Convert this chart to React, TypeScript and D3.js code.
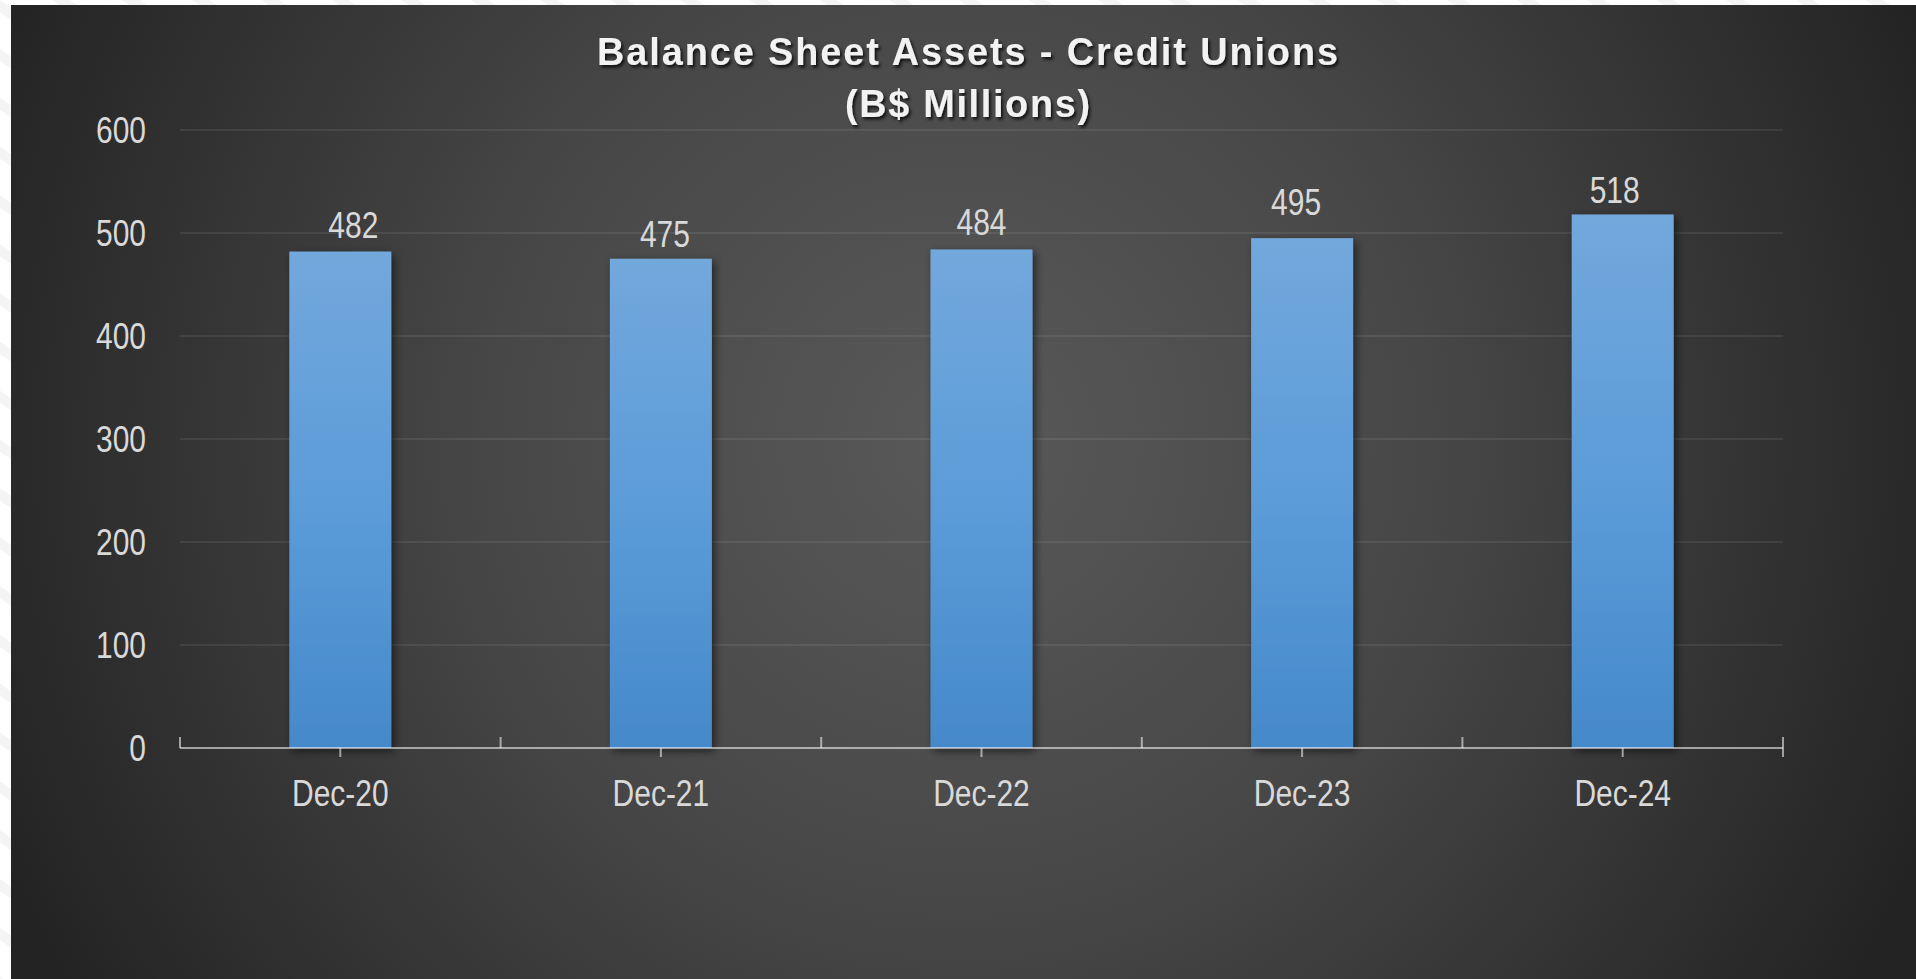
import React from "react";
import * as d3 from "d3";

const categories: string[] = ["Dec-20", "Dec-21", "Dec-22", "Dec-23", "Dec-24"];
const assets: number[] = [482, 475, 484, 495, 518];
const yTicks: number[] = [0, 100, 200, 300, 400, 500, 600];
const titleLines: string[] = ["Balance Sheet Assets - Credit Unions", "(B$ Millions)"];
// small manual nudges of the value labels (dx, extra gap above bar)
const labelDx: number[] = [13, 4, 0, -6, -8];
const labelGap: number[] = [14, 12, 14, 23, 11];

const W = 1916;
const H = 979;
const FONT = "'Liberation Sans Narrow', 'Arial Narrow', 'Liberation Sans', Arial, sans-serif";
const SX = 0.81; // horizontal condensing to mimic a narrow face

function NarrowText(props: {
  x: number;
  y: number;
  anchor: "start" | "middle" | "end";
  size: number;
  fill: string;
  weight?: string;
  length?: number;
  sx?: number;
  children: React.ReactNode;
}) {
  const sx = props.sx ?? SX;
  return (
    <g transform={`translate(${props.x},${props.y}) scale(${sx},1)`}>
      <text
        x={0}
        y={0}
        textAnchor={props.anchor}
        fontFamily={FONT}
        fontSize={props.size}
        fontWeight={props.weight || "normal"}
        fill={props.fill}
        textLength={props.length ? props.length / sx : undefined}
        lengthAdjust={props.length ? "spacing" : undefined}
      >
        {props.children}
      </text>
    </g>
  );
}

export default function App() {
  const x = d3
    .scaleBand<string>()
    .domain(categories)
    .range([180, 1783])
    .paddingInner(0.682)
    .paddingOuter(0.341);
  const y = d3.scaleLinear().domain([0, 600]).range([748, 130]);
  const step = x.step();
  const x0 = x.range()[0];
  const boundaries = d3.range(categories.length + 1).map((i) => x0 + i * step);
  const cx = (c: string) => x(c)! + x.bandwidth() / 2;

  return (
    <svg
      width={W}
      height={H}
      style={{ position: "absolute", left: 0, top: 0, display: "block" }}
    >
      <defs>
        <radialGradient id="bg" gradientUnits="userSpaceOnUse" cx={960} cy={440} r={1050}>
          <stop offset="0" stopColor="#595959" />
          <stop offset="0.45" stopColor="#474747" />
          <stop offset="1" stopColor="#232323" />
        </radialGradient>
        <linearGradient id="bar" x1="0" y1="0" x2="0" y2="1">
          <stop offset="0" stopColor="#72a8dc" />
          <stop offset="0.5" stopColor="#5c9cd9" />
          <stop offset="1" stopColor="#4589cb" />
        </linearGradient>
        <filter id="barShadow" x="-20%" y="-10%" width="140%" height="130%">
          <feDropShadow dx="3" dy="3" stdDeviation="4" floodColor="#000" floodOpacity="0.55" />
        </filter>
        <filter id="titleShadow" x="-10%" y="-30%" width="120%" height="160%">
          <feDropShadow dx="2" dy="2.5" stdDeviation="1.6" floodColor="#000" floodOpacity="0.75" />
        </filter>
        <pattern id="stripes" width="40" height="40" patternUnits="userSpaceOnUse" patternTransform="rotate(35)">
          <rect width="40" height="40" fill="#ffffff" />
          <rect width="40" height="10" fill="#f4f4f4" />
        </pattern>
      </defs>

      <rect x={0} y={0} width={W} height={H} fill="url(#stripes)" />
      <rect x={11} y={5} width={W - 11} height={H - 5} fill="url(#bg)" />

      {/* gridlines */}
      {yTicks
        .filter((t) => t !== 0)
        .map((t) => (
          <line
            key={"g" + t}
            x1={180}
            x2={1783}
            y1={y(t)}
            y2={y(t)}
            stroke="#ffffff"
            strokeOpacity={0.1}
            strokeWidth={1.5}
          />
        ))}

      {/* y tick labels */}
      {yTicks.map((t) => (
        <NarrowText key={"yl" + t} x={146} y={y(t) + 13} anchor="end" size={37} fill="#d9d9d9">
          {t}
        </NarrowText>
      ))}

      {/* bars */}
      {assets.map((v, i) => (
        <rect
          key={"b" + i}
          x={x(categories[i])}
          y={y(v)}
          width={x.bandwidth()}
          height={y(0) - y(v)}
          fill="url(#bar)"
          filter="url(#barShadow)"
        />
      ))}

      {/* x axis */}
      <line x1={180} x2={1783} y1={y(0)} y2={y(0)} stroke="#ffffff" strokeOpacity={0.55} strokeWidth={2.2} />
      {boundaries.map((bx, i) => (
        <line
          key={"tb" + i}
          x1={bx}
          x2={bx}
          y1={y(0) - 11}
          y2={i === boundaries.length - 1 ? y(0) + 9 : y(0)}
          stroke="#ffffff"
          strokeOpacity={0.55}
          strokeWidth={2}
        />
      ))}
      {categories.map((c) => (
        <line
          key={"tc" + c}
          x1={cx(c)}
          x2={cx(c)}
          y1={y(0)}
          y2={y(0) + 9}
          stroke="#ffffff"
          strokeOpacity={0.55}
          strokeWidth={2}
        />
      ))}

      {/* category labels */}
      {categories.map((c) => (
        <NarrowText key={"xl" + c} x={cx(c)} y={806} anchor="middle" size={37} fill="#d9d9d9">
          {c}
        </NarrowText>
      ))}

      {/* value labels */}
      {assets.map((v, i) => (
        <NarrowText
          key={"vl" + i}
          x={cx(categories[i]) + labelDx[i]}
          y={y(v) - labelGap[i]}
          anchor="middle"
          size={37}
          fill="#d9d9d9"
        >
          {v}
        </NarrowText>
      ))}

      {/* title */}
      <g filter="url(#titleShadow)">
        <NarrowText x={967.5} y={65} anchor="middle" size={39} weight="bold" fill="#f2f2f2" length={741} sx={0.97}>
          {titleLines[0]}
        </NarrowText>
        <NarrowText x={967.5} y={117} anchor="middle" size={39} weight="bold" fill="#f2f2f2" length={245} sx={0.97}>
          {titleLines[1]}
        </NarrowText>
      </g>
    </svg>
  );
}
